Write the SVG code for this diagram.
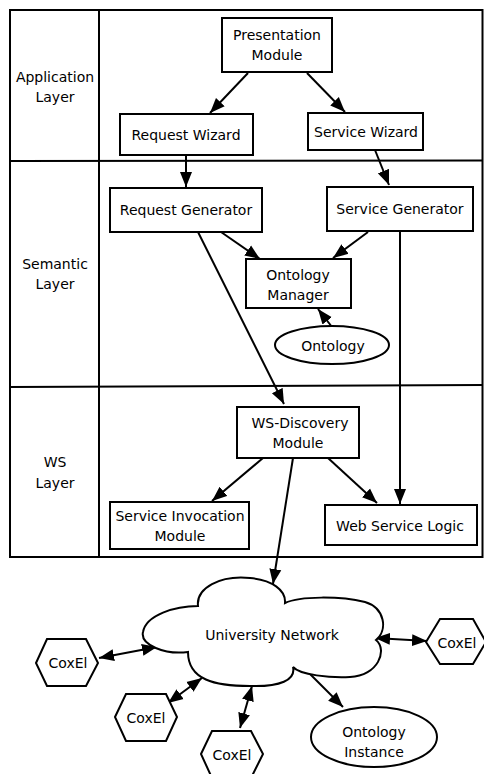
<svg xmlns="http://www.w3.org/2000/svg" width="484" height="774" viewBox="0 0 484 774">
  <style>
    text { font-family: "DejaVu Sans", "Liberation Sans", sans-serif; font-size: 14px; fill: #000; text-anchor: middle; }
    .box { fill: #fff; stroke: #000; stroke-width: 2; }
    .frame { fill: none; stroke: #000; stroke-width: 2; }
    .edge { fill: none; stroke: #000; stroke-width: 2; }
    .arrow { marker-end: url(#head); }
    .both { marker-start: url(#head); marker-end: url(#head); }
  </style>
  <defs>
    <marker id="head" markerUnits="userSpaceOnUse" markerWidth="16" markerHeight="13" refX="15" refY="6.5" orient="auto-start-reverse">
      <path d="M0,0.5 L15,6.5 L0,12.5 z" fill="#000"/>
    </marker>
  </defs>

  <rect width="484" height="774" fill="#fff"/>

  <!-- layer frame -->
  <g id="layers">
    <rect class="frame" x="10" y="10" width="472.5" height="547"/>
    <line class="frame" x1="99" y1="10" x2="99" y2="557"/>
    <line class="frame" x1="10" y1="161" x2="483" y2="160.5"/>
    <line class="frame" x1="10" y1="387" x2="483" y2="385"/>
    <text x="55" y="82">Application</text>
    <text x="55" y="102">Layer</text>
    <text x="55" y="269">Semantic</text>
    <text x="55" y="289">Layer</text>
    <text x="55" y="467">WS</text>
    <text x="55" y="488">Layer</text>
  </g>

  <!-- connectors -->
  <g id="connectors">
    <line class="edge arrow" x1="248" y1="73" x2="210" y2="113"/>
    <line class="edge arrow" x1="307" y1="73" x2="345" y2="112"/>
    <line class="edge arrow" x1="186" y1="155" x2="186" y2="187"/>
    <line class="edge arrow" x1="375" y1="150" x2="389" y2="185"/>
    <line class="edge arrow" x1="221" y1="232" x2="260" y2="259"/>
    <line class="edge arrow" x1="368" y1="232" x2="333" y2="258"/>
    <line class="edge arrow" x1="332" y1="327" x2="318" y2="309"/>
    <line class="edge arrow" x1="198" y1="232" x2="284" y2="404"/>
    <line class="edge arrow" x1="400" y1="232" x2="400" y2="504"/>
    <line class="edge arrow" x1="263" y1="458" x2="212" y2="501"/>
    <line class="edge arrow" x1="328" y1="458" x2="377" y2="503"/>
    <line class="edge arrow" x1="293" y1="458" x2="273" y2="584"/>
    <line class="edge both" x1="99" y1="658" x2="157" y2="647"/>
    <line class="edge both" x1="168" y1="703" x2="202" y2="678"/>
    <line class="edge both" x1="240" y1="728" x2="252" y2="686"/>
    <line class="edge both" x1="375" y1="638" x2="427" y2="641"/>
    <line class="edge arrow" x1="308" y1="672" x2="343" y2="707"/>
  </g>

  <!-- application layer -->
  <g id="presentation-module">
    <rect class="box" x="222" y="18" width="110" height="54"/>
    <text x="277" y="40">Presentation</text>
    <text x="277" y="60">Module</text>
  </g>
  <g id="request-wizard">
    <rect class="box" x="120" y="114" width="133" height="41"/>
    <text x="186" y="140">Request Wizard</text>
  </g>
  <g id="service-wizard">
    <rect class="box" x="308" y="113" width="115" height="37"/>
    <text x="366" y="137">Service Wizard</text>
  </g>

  <!-- semantic layer -->
  <g id="request-generator">
    <rect class="box" x="110" y="188" width="152" height="44"/>
    <text x="186" y="215">Request Generator</text>
  </g>
  <g id="service-generator">
    <rect class="box" x="327" y="187" width="146" height="44"/>
    <text x="400" y="214">Service Generator</text>
  </g>
  <g id="ontology-manager">
    <rect class="box" x="246" y="259" width="105" height="49"/>
    <text x="298" y="280">Ontology</text>
    <text x="298" y="300">Manager</text>
  </g>
  <g id="ontology">
    <ellipse class="box" cx="332" cy="345" rx="57" ry="19"/>
    <text x="333" y="351">Ontology</text>
  </g>

  <!-- WS layer -->
  <g id="ws-discovery-module">
    <rect class="box" x="237" y="407" width="122" height="51"/>
    <text x="300" y="428">WS-Discovery</text>
    <text x="298" y="448">Module</text>
  </g>
  <g id="service-invocation-module">
    <rect class="box" x="110" y="502" width="139" height="47"/>
    <text x="180" y="521">Service Invocation</text>
    <text x="180" y="541">Module</text>
  </g>
  <g id="web-service-logic">
    <rect class="box" x="325" y="505" width="152" height="40"/>
    <text x="400" y="531">Web Service Logic</text>
  </g>

  <!-- network -->
  <g id="university-network">
    <path class="box" d="M198,606 C196,588 220,575 250,578 C272,580 286,590 285,603 C300,596 340,596 365,602 C385,608 388,630 376,640 C388,650 378,676 350,677 C330,678 300,675 293,667 C296,680 280,687 250,686 C215,686 188,680 188,652 C165,655 140,645 143,632 C146,615 175,606 198,606 Z"/>
    <text x="272" y="640">University Network</text>
  </g>
  <g id="coxel-1">
    <polygon class="box" points="36,663 47,639 86,639 98,663 86,686 47,686"/>
    <text x="68" y="668">CoxEl</text>
  </g>
  <g id="coxel-2">
    <polygon class="box" points="115,717 126,694 166,694 177,717 166,741 126,741"/>
    <text x="146" y="723">CoxEl</text>
  </g>
  <g id="coxel-3">
    <polygon class="box" points="201,754 212,731 251,731 263,754 251,778 212,778"/>
    <text x="232" y="760">CoxEl</text>
  </g>
  <g id="coxel-4">
    <polygon class="box" points="426,642 440,619 473,619 486,642 473,664 440,664"/>
    <text x="457" y="648">CoxEl</text>
  </g>
  <g id="ontology-instance">
    <ellipse class="box" cx="374" cy="737" rx="63" ry="30"/>
    <text x="374" y="737">Ontology</text>
    <text x="374" y="757">Instance</text>
  </g>
</svg>
